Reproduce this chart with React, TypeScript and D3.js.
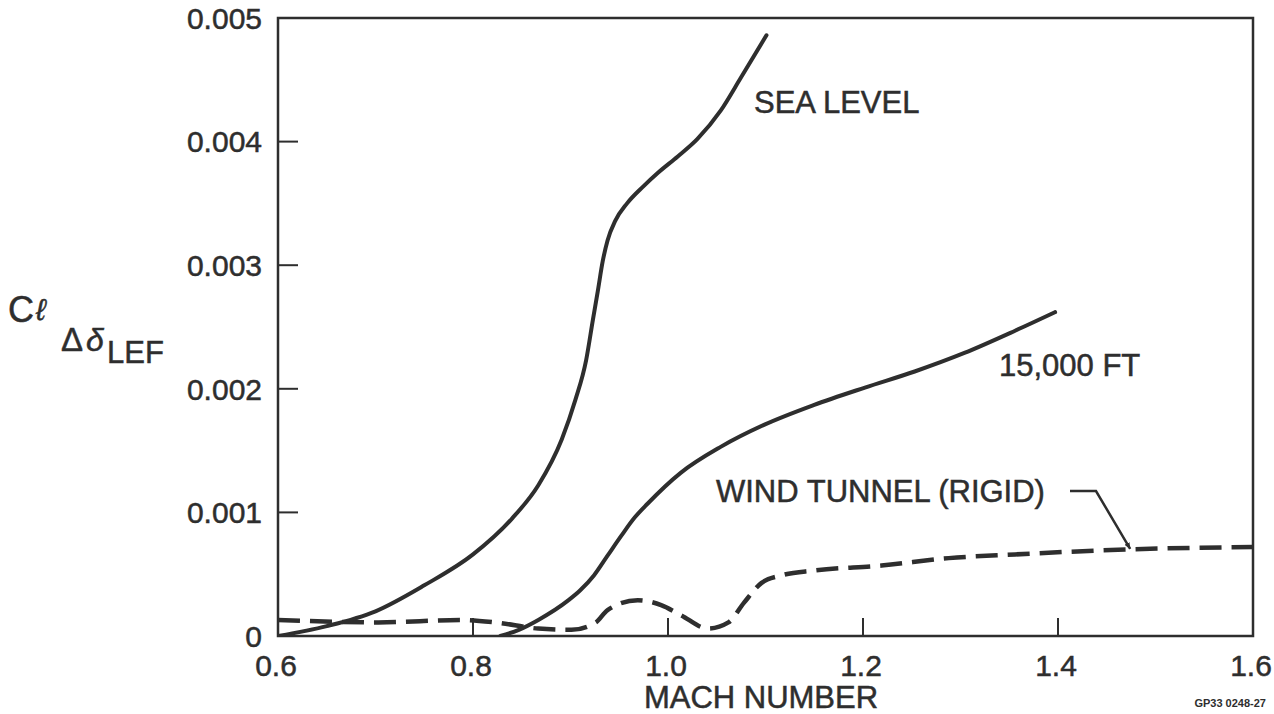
import React from "react";
import * as d3 from "d3";

const W = 1274;
const H = 714;

const xTicks = [0.6, 0.8, 1.0, 1.2, 1.4, 1.6];
const xTickLabels = ["0.6", "0.8", "1.0", "1.2", "1.4", "1.6"];
const yTicks = [0, 0.001, 0.002, 0.003, 0.004, 0.005];
const yTickLabels = ["0", "0.001", "0.002", "0.003", "0.004", "0.005"];

const seaLevelMach = [0.6, 0.65, 0.7, 0.75, 0.8, 0.84, 0.867, 0.891, 0.905, 0.916, 0.923, 0.928, 0.933, 0.938, 0.946, 0.958, 0.975, 0.99, 1.01, 1.03, 1.054, 1.075, 1.101];
const seaLevelCl = [0, 0.00008, 0.0002, 0.00041, 0.00066, 0.00095, 0.00122, 0.00159, 0.00191, 0.00223, 0.00256, 0.00279, 0.00303, 0.0032, 0.00336, 0.0035, 0.00364, 0.00375, 0.00388, 0.00402, 0.00425, 0.00452, 0.00486];

const ft15kMach = [0.828, 0.847, 0.867, 0.898, 0.91, 0.924, 0.938, 0.952, 0.966, 0.979, 1.013, 1.054, 1.099, 1.15, 1.202, 1.253, 1.304, 1.356, 1.397];
const ft15kCl = [0, 0.00005, 0.00013, 0.00029, 0.00037, 0.00049, 0.00065, 0.00081, 0.00096, 0.00107, 0.00132, 0.00153, 0.00171, 0.00187, 0.00201, 0.00214, 0.00229, 0.00247, 0.00262];

const windMach = [0.6, 0.703, 0.788, 0.823, 0.867, 0.901, 0.926, 0.938, 0.969, 0.993, 1.013, 1.041, 1.062, 1.078, 1.096, 1.116, 1.15, 1.219, 1.288, 1.356, 1.469, 1.6];
const windCl = [0.00013, 0.00011, 0.00013, 0.00011, 0.00006, 0.00005, 0.00011, 0.00021, 0.00029, 0.00025, 0.00017, 0.00006, 0.00011, 0.00027, 0.00043, 0.00049, 0.00053, 0.00057, 0.00063, 0.00066, 0.0007, 0.00072];

const FONT = "'Liberation Sans', Arial, Helvetica, sans-serif";
const INK = "#2e2e2e";

const textStyle = { paintOrder: "stroke" as const };

export default function App() {
  const x = d3.scaleLinear().domain([0.6, 1.6]).range([278, 1253]);
  const y = d3.scaleLinear().domain([0, 0.005]).range([636, 18]);

  const line = d3
    .line<[number, number]>()
    .x((d) => x(d[0]))
    .y((d) => y(d[1]))
    .curve(d3.curveMonotoneX);

  const zip = (a: number[], b: number[]) => a.map((v, i) => [v, b[i]] as [number, number]);

  const sea = line(zip(seaLevelMach, seaLevelCl)) || "";
  const ft = line(zip(ft15kMach, ft15kCl)) || "";
  const wind = line(zip(windMach, windCl)) || "";

  // annotation arrow
  const arrowStartX = 1070;
  const arrowY = 491;
  const cornerX = 1096;
  const tipX = x(1.474);
  const tipY = y(0.000705);

  const T = (props: any) => (
    <text fill={INK} stroke={INK} strokeWidth={0.5} style={textStyle} {...props} />
  );

  return (
    <svg
      width={W}
      height={H}
      style={{ position: "absolute", left: 0, top: 0, background: "#fff" }}
      fontFamily={FONT}
    >
      <defs>
        <marker id="ah" viewBox="0 0 10 10" refX="9" refY="5" markerWidth="7" markerHeight="7" orient="auto" markerUnits="userSpaceOnUse">
          <path d="M0,1 L10,5 L0,9 z" fill={INK} />
        </marker>
        <clipPath id="plot">
          <rect x={278} y={18} width={975} height={618} />
        </clipPath>
      </defs>

      {/* frame */}
      <rect x={278} y={18} width={975} height={618} fill="none" stroke={INK} strokeWidth={2.5} />

      {/* y ticks inside */}
      {yTicks.slice(1, 5).map((t) => (
        <line key={"yt" + t} x1={278} x2={298} y1={y(t)} y2={y(t)} stroke={INK} strokeWidth={2} />
      ))}
      {/* x ticks inside */}
      {xTicks.slice(1, 5).map((t) => (
        <line key={"xt" + t} x1={x(t)} x2={x(t)} y1={636} y2={618} stroke={INK} strokeWidth={2} />
      ))}

      {/* y tick labels */}
      {yTicks.map((t, i) => (
        <T key={"yl" + t} x={262} y={y(t)} dy="0.36em" textAnchor="end" fontSize={30}>
          {yTickLabels[i]}
        </T>
      ))}
      {/* x tick labels */}
      {xTicks.map((t, i) => (
        <T key={"xl" + t} x={x(t) - 2} y={676} textAnchor="middle" fontSize={30}>
          {xTickLabels[i]}
        </T>
      ))}

      {/* axis titles */}
      <T x={761} y={708} textAnchor="middle" fontSize={31}>
        MACH NUMBER
      </T>
      <T x={8} y={322} fontSize={36}>C</T>
      <T x={36} y={320} fontSize={30} fontStyle="italic">ℓ</T>
      <T x={61} y={351} fontSize={33}>Δ</T>
      <T x={86} y={351} fontSize={32} fontStyle="italic">δ</T>
      <T x={107} y={363} fontSize={31}>LEF</T>

      {/* curves */}
      <g clipPath="url(#plot)">
        <path d={wind} fill="none" stroke={INK} strokeWidth={4.5} strokeDasharray="22 10" />
        <path d={ft} fill="none" stroke={INK} strokeWidth={4} strokeLinecap="round" />
        <path d={sea} fill="none" stroke={INK} strokeWidth={4} strokeLinecap="round" />
      </g>

      {/* curve labels */}
      <T x={754} y={113} fontSize={31}>SEA LEVEL</T>
      <T x={999} y={376} fontSize={31}>15,000 FT</T>
      <T x={716} y={502} fontSize={31}>WIND TUNNEL (RIGID)</T>

      {/* annotation arrow */}
      <path
        d={`M${arrowStartX},${arrowY} L${cornerX},${arrowY} L${tipX},${tipY}`}
        fill="none"
        stroke={INK}
        strokeWidth={2.5}
        markerEnd="url(#ah)"
      />

      <text x={1266} y={707} textAnchor="end" fontSize={11} fontWeight="bold" fill={INK} fontFamily="'Liberation Sans Narrow', 'Liberation Sans', Arial, sans-serif">
        GP33 0248-27
      </text>
    </svg>
  );
}
